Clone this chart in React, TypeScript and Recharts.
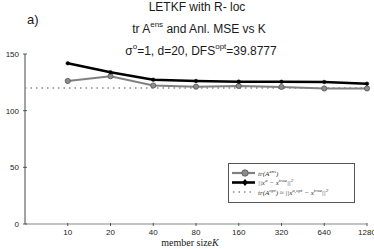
import React from 'react';
import {
  LineChart, Line, XAxis, YAxis, ReferenceLine, Customized,
} from 'recharts';

// ensemble size K and the two curves
const kLabels = ['10', '20', '40', '80', '160', '320', '640', '1280'];
const trAens = [126.2, 130.4, 122.2, 121.2, 121.8, 120.9, 119.6, 119.6];
const anlMse = [141.8, 133.9, 127.3, 126.2, 125.6, 125.5, 125.3, 123.8];
const trAopt = 120;
const yTicks = [0, 50, 100, 150];

const data = kLabels.map((k, i) => ({ idx: i + 1, k, trAens: trAens[i], mse: anlMse[i] }));

const sans = '"Liberation Sans", Arial, sans-serif';
const serif = '"Liberation Serif", "Times New Roman", serif';

const XTick = ({ x, y, payload }: any) => (
  <g>
    <line x1={x} y1={y} x2={x} y2={y - 3} stroke="#333" strokeWidth={0.8} />
    <text x={x} y={y + 8.5} textAnchor="middle" fontSize={8} fontFamily={sans} fill="#222">
      {kLabels[payload.value - 1]}
    </text>
  </g>
);

const YTick = ({ x, y, payload }: any) => (
  <g>
    <line x1={x} y1={y} x2={x + 4} y2={y} stroke="#333" strokeWidth={0.8} />
    <text x={x - 4} y={y + 3} textAnchor="end" fontSize={8} fontFamily={sans} fill="#222">
      {payload.value}
    </text>
  </g>
);

const Title = () => (
  <g fontFamily={sans} fill="#1a1a1a">
    <text x={27} y={24} fontSize={13}>a)</text>
    <text x={197} y={11} textAnchor="middle" fontSize={12}>LETKF with R- loc</text>
    <text x={199} y={33} textAnchor="middle" fontSize={12}>
      tr A<tspan dy={-6} fontSize={8}>ens</tspan><tspan dy={6}> and Anl. MSE vs K</tspan>
    </text>
    <text x={201} y={55} textAnchor="middle" fontSize={12}>
      σ<tspan dy={-6} fontSize={8}>o</tspan><tspan dy={6}>=1, d=20, DFS</tspan>
      <tspan dy={-6} fontSize={8}>opt</tspan><tspan dy={6}>=39.8777</tspan>
    </text>
    <text x={190} y={245.5} textAnchor="middle" fontSize={10} fontFamily={serif}>
      member size<tspan fontStyle="italic">K</tspan>
    </text>
  </g>
);

// legend rows drawn as svg so the superscripts sit where they should
const legendRows = [
  { kind: 'gray', parts: [['tr(A', 0], ['ens', 1], [')', 0]] },
  { kind: 'black', parts: [['||x', 0], ['a', 1], [' − x', 0], ['true', 1], ['||', 0], ['2', 1]] },
  {
    kind: 'dot',
    parts: [['tr(A', 0], ['opt', 1], [') ≈ ||x', 0], ['a,opt', 1], [' − x', 0], ['true', 1], ['||', 0], ['2', 1]],
  },
];

const LegendBox = () => (
  <svg width={127} height={40} style={{ position: 'absolute', left: 228, top: 163 }}>
    <rect x={0.5} y={0.5} width={126} height={39} fill="#fff" stroke="#555" strokeWidth={1} />
    {legendRows.map((r, i) => {
      const y = 10 + i * 9.5;
      return (
        <g key={i}>
          {r.kind === 'gray' && (
            <>
              <line x1={4} y1={y} x2={27} y2={y} stroke="#808080" strokeWidth={2.2} />
              <circle cx={17} cy={y} r={3.2} fill="#8c8c8c" stroke="#555" strokeWidth={0.8} />
            </>
          )}
          {r.kind === 'black' && (
            <>
              <line x1={4} y1={y} x2={27} y2={y} stroke="#000" strokeWidth={2.6} />
              <path d={`M17 ${y - 3.5} L20 ${y} L17 ${y + 3.5} L14 ${y} Z`} fill="#000" />
            </>
          )}
          {r.kind === 'dot' && (
            <line x1={5} y1={y} x2={27} y2={y} stroke="#888" strokeWidth={1.5} strokeDasharray="1.5 4" />
          )}
          <text x={30} y={y + 2.5} fontFamily={serif} fontStyle="italic" fontSize={7} fill="#333">
            {r.parts.map(([t, s], j) => {
              const prev = j > 0 ? r.parts[j - 1][1] : 0;
              const dy = s === prev ? 0 : s ? -3 : 3;
              return <tspan key={j} dy={dy} fontSize={s ? 5 : 7}>{t}</tspan>;
            })}
          </text>
        </g>
      );
    })}
  </svg>
);

export default function App() {
  return (
    <div style={{ position: 'absolute', left: 0, top: 0, width: 374, height: 249, background: '#fff' }}>
      <LineChart width={374} height={249} data={data} margin={{ top: 54, right: 7, bottom: 0, left: 0 }}>
        <XAxis
          type="number" dataKey="idx" domain={[0, 8]} ticks={[1, 2, 3, 4, 5, 6, 7, 8]}
          height={25} tickSize={0} tickLine={false} tick={<XTick />}
          axisLine={{ stroke: '#888', strokeWidth: 1.2 }}
        />
        <YAxis
          domain={[0, 150]} ticks={yTicks} width={25} tickSize={0} tickLine={false}
          tick={<YTick />} axisLine={{ stroke: '#999', strokeWidth: 1.8 }}
        />
        <ReferenceLine y={trAopt} stroke="#888" strokeWidth={1.5} strokeDasharray="1.5 4" />
        <Line
          dataKey="trAens" stroke="#808080" strokeWidth={2} isAnimationActive={false}
          dot={{ r: 2.6, fill: '#8c8c8c', stroke: '#555', strokeWidth: 0.8 }}
        />
        <Line
          dataKey="mse" stroke="#000" strokeWidth={2.5} isAnimationActive={false}
          dot={{ r: 1.8, fill: '#000', stroke: '#000', strokeWidth: 0.5 }}
        />
        <Customized component={Title} />
      </LineChart>
      <LegendBox />
    </div>
  );
}
